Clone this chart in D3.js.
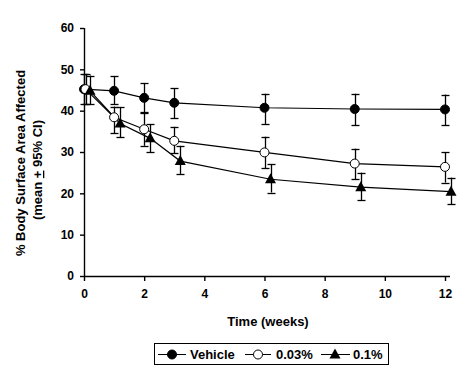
<!DOCTYPE html>
<html><head><meta charset="utf-8">
<script src="https://cdn.jsdelivr.net/npm/d3@7"></script>
<style>
html,body{margin:0;padding:0;background:#fff;}
text{font-family:"Liberation Sans",Arial,sans-serif;font-weight:bold;fill:#000;}
</style></head>
<body><svg id="chart" width="476" height="375"></svg>
<script>
// Data
const weeks = [0, 1, 2, 3, 6, 9, 12];
const vehicleX = [0, 1, 2, 3, 6, 9, 12];
const vehicleMean = [45.2, 44.8, 43.1, 41.9, 40.7, 40.4, 40.3];
const vehicleLo = [41.5, 41.5, 39.5, 38.2, 36.8, 36.5, 36.5];
const vehicleHi = [48.9, 48.4, 46.6, 45.4, 44.1, 44.1, 43.9];
const lowDoseX = [0.05, 1, 2, 3, 6, 9, 12];
const lowDoseMean = [45.2, 38.4, 35.5, 32.7, 29.9, 27.2, 26.4];
const lowDoseLo = [41.5, 34.5, 31.5, 29.7, 26.1, 23.4, 22.6];
const lowDoseHi = [48.9, 41.0, 39.6, 36.1, 33.7, 30.8, 29.9];
const highDoseX = [0.2, 1.2, 2.2, 3.2, 6.2, 9.2, 12.2];
const highDoseMean = [44.8, 36.9, 33.3, 27.8, 23.4, 21.5, 20.4];
const highDoseLo = [41.5, 33.6, 29.9, 24.7, 20.2, 18.4, 17.4];
const highDoseHi = [48.5, 40.8, 36.7, 31.5, 27.0, 25.0, 23.8];
const xTicks = [0, 2, 4, 6, 8, 10, 12];
const yTicks = [0, 10, 20, 30, 40, 50, 60];
const seriesNames = ["Vehicle", "0.03%", "0.1%"];

const svg = d3.select("#chart");
const x = d3.scaleLinear().domain([0, 12]).range([84, 445]);
const y = d3.scaleLinear().domain([0, 60]).range([276, 28]);

// axes
const xAxis = d3.axisBottom(x).tickValues(xTicks).tickSize(5).tickPadding(4);
const gx = svg.append("g").attr("transform", "translate(0,276)").call(xAxis);
gx.select(".domain").attr("d", `M84,0.5H450`);
const yAxis = d3.axisLeft(y).tickValues(yTicks).tickSize(4).tickPadding(6);
const gy = svg.append("g").attr("transform", "translate(84,0)").call(yAxis);
gy.select(".domain").attr("d", `M0.5,28V276.5`);
[gx, gy].forEach(g => {
  g.selectAll("path,line").attr("stroke", "#000").attr("stroke-width", 1.4);
  g.selectAll("text").attr("font-size", 12).attr("font-family", "Liberation Sans, Arial, sans-serif").attr("font-weight", "bold").attr("fill", "#000");
});
gx.selectAll("text").attr("dy", "1.05em");

// axis titles
svg.append("text").attr("x", 268).attr("y", 326).attr("text-anchor", "middle").attr("font-size", 13).text("Time (weeks)");
svg.append("text").attr("transform", "translate(25,163) rotate(-90)").attr("text-anchor", "middle").attr("font-size", 13).text("% Body Surface Area Affected");
const t2 = svg.append("text").attr("transform", "translate(42,170) rotate(-90)").attr("text-anchor", "middle").attr("font-size", 13);
t2.append("tspan").text("(mean ");
t2.append("tspan").attr("text-decoration", "underline").text("+");
t2.append("tspan").text(" 95% CI)");

const series = [
  {xs: vehicleX, m: vehicleMean, lo: vehicleLo, hi: vehicleHi, type: "filled"},
  {xs: lowDoseX, m: lowDoseMean, lo: lowDoseLo, hi: lowDoseHi, type: "open"},
  {xs: highDoseX, m: highDoseMean, lo: highDoseLo, hi: highDoseHi, type: "tri"}
];

function drawMarker(g, type, cx, cy) {
  if (type === "tri") {
    g.append("path").attr("d", `M${cx},${cy-6}L${cx+5.5},${cy+4}L${cx-5.5},${cy+4}Z`).attr("fill", "#000");
  } else {
    g.append("circle").attr("cx", cx).attr("cy", cy).attr("r", 4.5)
      .attr("fill", type === "filled" ? "#000" : "#fff").attr("stroke", "#000").attr("stroke-width", 1);
  }
}

const line = d3.line().x(d => x(d[0])).y(d => y(d[1]));
// error bars
series.forEach(s => {
  const g = svg.append("g");
  s.xs.forEach((xv, i) => {
    const cx = Math.round(x(xv)) + 0.5;
    g.append("line").attr("x1", cx).attr("x2", cx).attr("y1", y(s.lo[i])).attr("y2", y(s.hi[i])).attr("stroke", "#000").attr("stroke-width", 1.3);
    [s.lo[i], s.hi[i]].forEach(v => {
      g.append("line").attr("x1", cx - 4).attr("x2", cx + 4).attr("y1", Math.round(y(v)) + 0.5).attr("y2", Math.round(y(v)) + 0.5).attr("stroke", "#000").attr("stroke-width", 1.3);
    });
  });
});
// lines and markers
series.forEach(s => {
  const pts = s.xs.map((xv, i) => [xv, s.m[i]]);
  svg.append("path").attr("d", line(pts)).attr("fill", "none").attr("stroke", "#000").attr("stroke-width", 1.2);
});
[0, 1, 2].forEach(k => {
  const s = series[k];
  const g = svg.append("g");
  s.xs.forEach((xv, i) => drawMarker(g, s.type, x(xv), y(s.m[i])));
});

// legend
const lg = svg.append("g");
lg.append("rect").attr("x", 154.5).attr("y", 343.5).attr("width", 234).attr("height", 21).attr("fill", "#fff").attr("stroke", "#000").attr("stroke-width", 1);
const legendItems = [
  {x1: 158, x2: 186, mx: 172, tx: 190, type: "filled"},
  {x1: 245, x2: 271, mx: 258, tx: 276, type: "open"},
  {x1: 321, x2: 350, mx: 335, tx: 353, type: "tri"}
];
legendItems.forEach((it, i) => {
  lg.append("line").attr("x1", it.x1).attr("x2", it.x2).attr("y1", 354.5).attr("y2", 354.5).attr("stroke", "#000").attr("stroke-width", 1);
  drawMarker(lg, it.type, it.mx, 354.5);
  lg.append("text").attr("x", it.tx).attr("y", 359).attr("font-size", 13).text(seriesNames[i]);
});
</script></body></html>
